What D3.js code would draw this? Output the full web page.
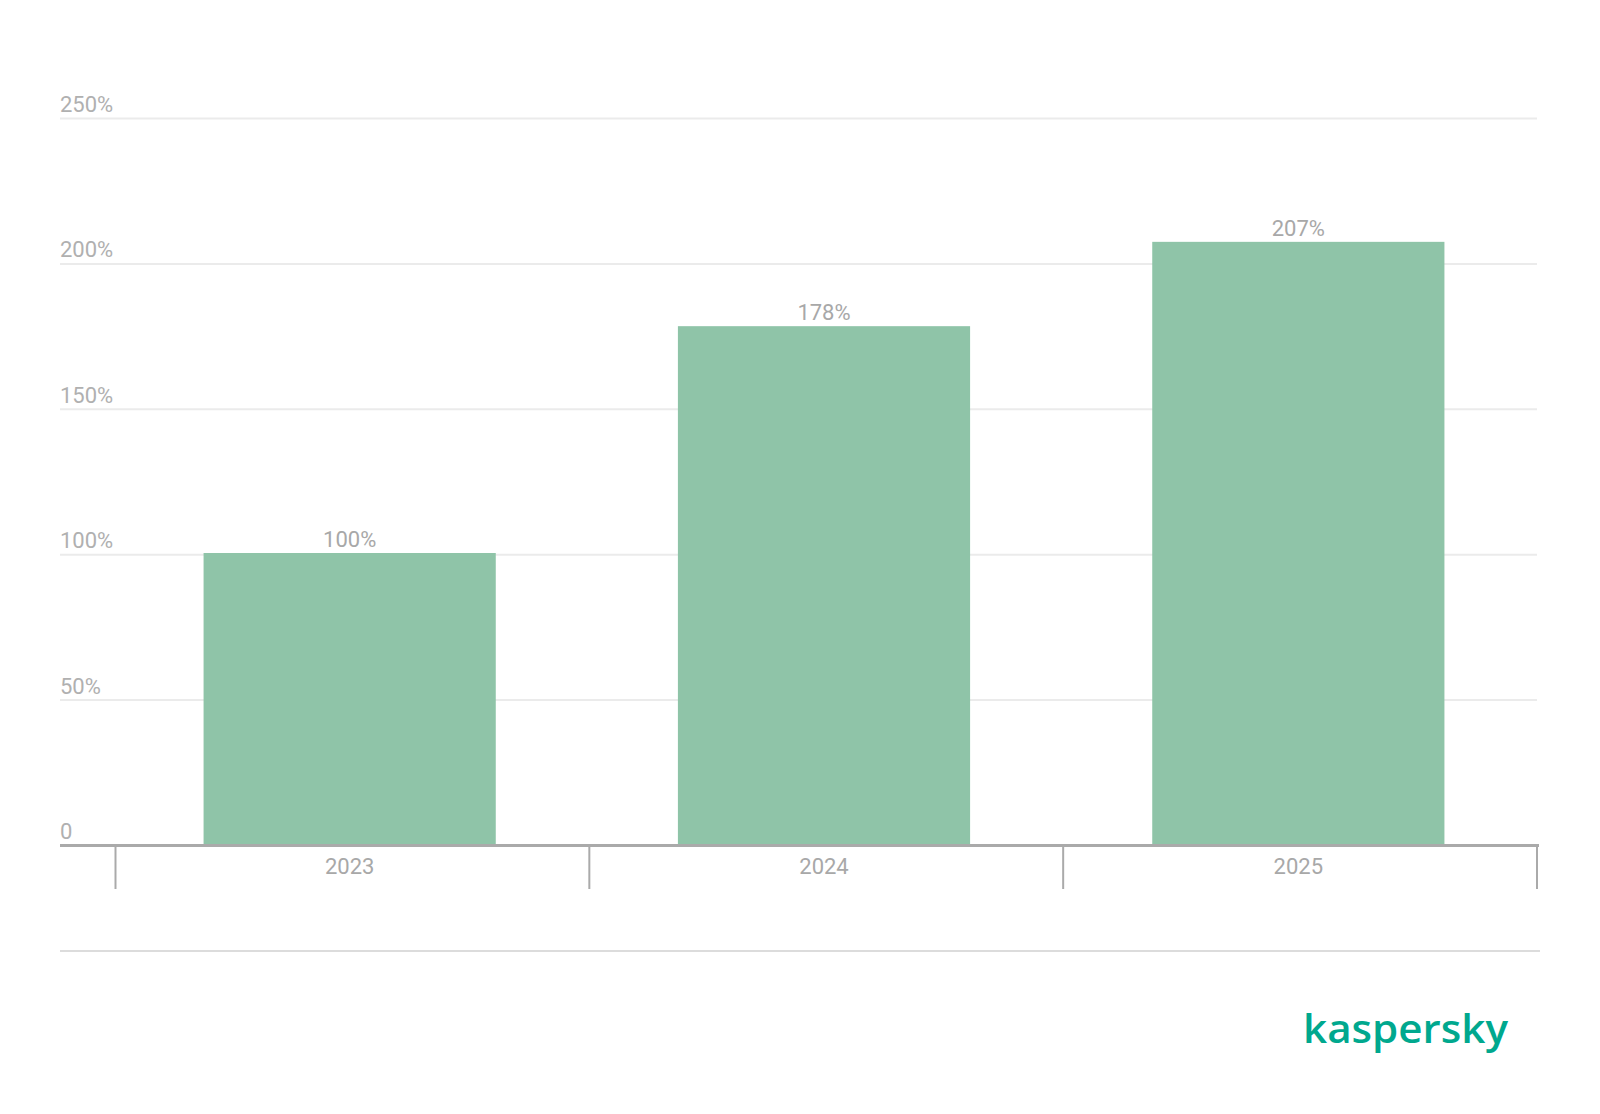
<!DOCTYPE html>
<html><head><meta charset="utf-8">
<script src="https://cdn.jsdelivr.net/npm/d3@7"></script>
<style>html,body{margin:0;padding:0;background:#fff;}svg{display:block;}</style>
</head><body>
<script>
const categories = ["2023", "2024", "2025"];
const values = [100, 178, 207];
const yTicks = [0, 50, 100, 150, 200, 250];
const yTickLabels = ["0", "50%", "100%", "150%", "200%", "250%"];
const valueLabels = ["100%", "178%", "207%"];

const W = 1600, H = 1114;
const svg = d3.select("body").append("svg").attr("width", W).attr("height", H);

const y = d3.scaleLinear().domain([0, 250]).range([845.5, 118.5]);
const x = d3.scaleBand().domain(categories).range([112.5, 1535.5]).paddingInner(0.384).paddingOuter(0.192);
const xSep = d3.scaleBand().domain(categories).range([115.5, 1537]).padding(0);
const left = 60, right = 1537;
const FS = 22;
const barLift = 1.7;

// gridlines
svg.append("g").selectAll("line").data(yTicks.filter(d => d > 0)).join("line")
  .attr("x1", left).attr("x2", right)
  .attr("y1", d => y(d)).attr("y2", d => y(d))
  .attr("stroke", "#ebebeb").attr("stroke-width", 2);

// y labels
svg.append("g").selectAll("text").data(yTicks).join("text")
  .attr("x", left).attr("y", d => y(d) - 6.5)
  .attr("font-family", "Roboto, sans-serif").attr("font-size", FS)
  .attr("fill", "#b0b0b0")
  .text((d, i) => yTickLabels[i]);

// bars
svg.append("g").selectAll("rect").data(values).join("rect")
  .attr("x", (d, i) => x(categories[i]))
  .attr("width", x.bandwidth())
  .attr("y", d => y(d) - barLift)
  .attr("height", d => y(0) - y(d) + barLift)
  .attr("fill", "#8fc4a8");

// value labels
svg.append("g").selectAll("text").data(values).join("text")
  .attr("x", (d, i) => x(categories[i]) + x.bandwidth() / 2)
  .attr("y", d => y(d) - barLift - 6)
  .attr("text-anchor", "middle")
  .attr("font-family", "Roboto, sans-serif").attr("font-size", FS)
  .attr("fill", "#a8a8a8")
  .text((d, i) => valueLabels[i]);

// x axis line
svg.append("line").attr("x1", left).attr("x2", 1539).attr("y1", y(0)).attr("y2", y(0))
  .attr("stroke", "#aaaaaa").attr("stroke-width", 3);

// tick separators
const bounds = categories.map(c => xSep(c)).concat([xSep.range()[1]]);
svg.append("g").selectAll("line").data(bounds).join("line")
  .attr("x1", d => d).attr("x2", d => d)
  .attr("y1", y(0) + 1.5).attr("y2", 889)
  .attr("stroke", "#aaaaaa").attr("stroke-width", 2);

// category labels
svg.append("g").selectAll("text").data(categories).join("text")
  .attr("x", d => x(d) + x.bandwidth() / 2)
  .attr("y", 874)
  .attr("text-anchor", "middle")
  .attr("font-family", "Roboto, sans-serif").attr("font-size", FS)
  .attr("fill", "#a8a8a8")
  .text(d => d);

// bottom separator
svg.append("line").attr("x1", left).attr("x2", 1540).attr("y1", 951).attr("y2", 951)
  .attr("stroke", "#dcdcdc").attr("stroke-width", 2);

// logo
svg.append("text").attr("x", 1303).attr("y", 1043)
  .attr("font-family", "'Open Sans', sans-serif").attr("font-size", 39)
  .attr("font-weight", 600)
  .attr("fill", "#00a88e")
  .attr("textLength", 205).attr("lengthAdjust", "spacingAndGlyphs")
  .text("kaspersky");
</script>
</body></html>
